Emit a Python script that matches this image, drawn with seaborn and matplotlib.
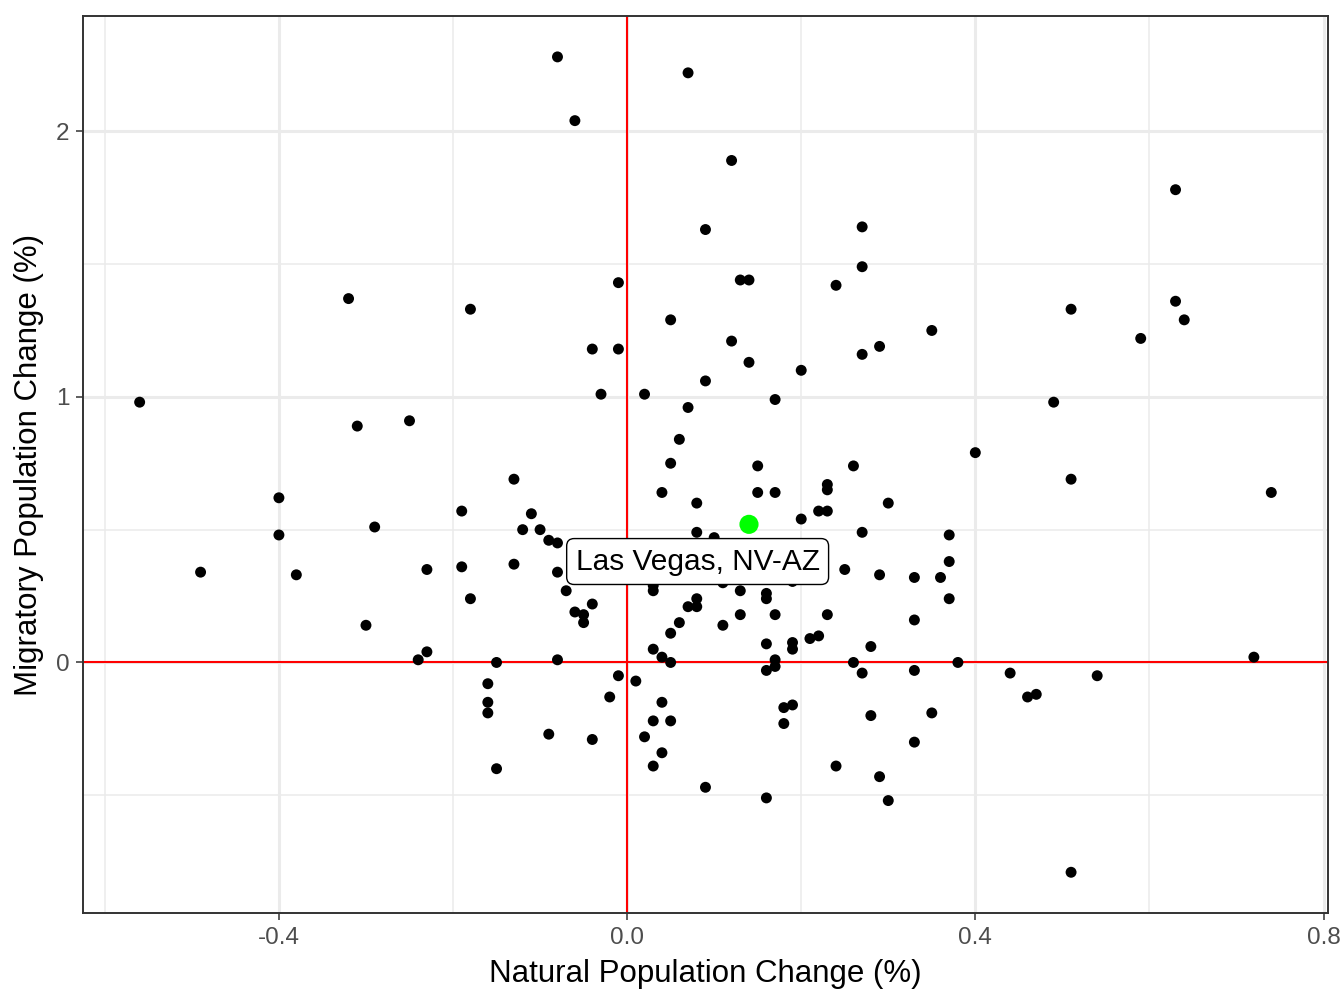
import matplotlib
matplotlib.use("Agg")
import matplotlib.pyplot as plt
import seaborn as sns
import pandas as pd
import numpy as np

# Natural population change (%) and migratory population change (%)
natural = [
    -0.08, 0.07, -0.06, 0.12, 0.63, 0.09, 0.27, 0.27, 0.13, 0.14,
    -0.01, 0.24, 0.51, 0.63, 0.64, -0.18, -0.32, 0.05, 0.35, -0.04,
    -0.01, 0.12, 0.27, 0.29, 0.14, 0.59, 0.20, 0.09, -0.56, -0.03,
    0.02, 0.17, 0.07, 0.49, -0.31, -0.25, 0.06, 0.40, 0.05, 0.15,
    0.26, -0.13, 0.51, 0.04, 0.15, 0.17, 0.23, 0.23, 0.74, -0.40,
    0.08, 0.30, -0.11, -0.19, 0.22, 0.23, 0.20, -0.29, -0.12, -0.10,
    0.08, 0.27, 0.37, -0.40, 0.10, -0.09, -0.08, -0.13, -0.19, -0.23,
    0.25, 0.37, -0.49, -0.38, -0.08, 0.29, 0.33, 0.36, 0.03, 0.03,
    0.11, 0.19, -0.07, 0.13, 0.16, 0.16, 0.08, 0.08, 0.07, -0.04,
    -0.06, -0.05, -0.05, 0.37, -0.18, 0.33, 0.13, 0.17, 0.23, 0.06,
    0.11, -0.30, 0.05, 0.28, 0.16, 0.19, 0.19, 0.21, 0.22, 0.03,
    0.04, 0.05, -0.08, 0.17, 0.17, 0.16, 0.26, 0.27, 0.33, 0.38,
    0.72, 0.44, 0.54, 0.46, 0.47, 0.35, 0.51, -0.23, -0.24, -0.15,
    -0.16, -0.16, -0.16, -0.15, -0.01, 0.01, -0.02, 0.04, 0.18, 0.19,
    0.03, 0.05, 0.18, 0.28, -0.09, -0.04, 0.02, 0.33, 0.04, 0.03,
    0.24, 0.29, 0.09, 0.16, 0.30,
]
migratory = [
    2.28, 2.22, 2.04, 1.89, 1.78, 1.63, 1.64, 1.49, 1.44, 1.44,
    1.43, 1.42, 1.33, 1.36, 1.29, 1.33, 1.37, 1.29, 1.25, 1.18,
    1.18, 1.21, 1.16, 1.19, 1.13, 1.22, 1.10, 1.06, 0.98, 1.01,
    1.01, 0.99, 0.96, 0.98, 0.89, 0.91, 0.84, 0.79, 0.75, 0.74,
    0.74, 0.69, 0.69, 0.64, 0.64, 0.64, 0.67, 0.65, 0.64, 0.62,
    0.60, 0.60, 0.56, 0.57, 0.57, 0.57, 0.54, 0.51, 0.50, 0.50,
    0.49, 0.49, 0.48, 0.48, 0.47, 0.46, 0.45, 0.37, 0.36, 0.35,
    0.35, 0.38, 0.34, 0.33, 0.34, 0.33, 0.32, 0.32, 0.29, 0.27,
    0.30, 0.305, 0.27, 0.27, 0.26, 0.24, 0.24, 0.21, 0.21, 0.22,
    0.19, 0.18, 0.15, 0.24, 0.24, 0.16, 0.18, 0.18, 0.18, 0.15,
    0.14, 0.14, 0.11, 0.06, 0.07, 0.075, 0.05, 0.09, 0.10, 0.05,
    0.02, 0.0, 0.01, 0.01, -0.015, -0.03, 0.0, -0.04, -0.03, 0.0,
    0.02, -0.04, -0.05, -0.13, -0.12, -0.19, -0.79, 0.04, 0.01, 0.0,
    -0.08, -0.15, -0.19, -0.40, -0.05, -0.07, -0.13, -0.15, -0.17, -0.16,
    -0.22, -0.22, -0.23, -0.20, -0.27, -0.29, -0.28, -0.30, -0.34, -0.39,
    -0.39, -0.43, -0.47, -0.51, -0.52,
]

highlight_name = ["Las Vegas, NV-AZ"]
highlight_natural = [0.14]
highlight_migratory = [0.52]

x_ticks = [-0.4, 0.0, 0.4, 0.8]
x_tick_labels = ["-0.4", "0.0", "0.4", "0.8"]
y_ticks = [0, 1, 2]
y_tick_labels = ["0", "1", "2"]

df = pd.DataFrame({"natural": natural, "migratory": migratory})
hl = pd.DataFrame({"natural": highlight_natural, "migratory": highlight_migratory,
                   "name": highlight_name})

sns.set_theme(style="white")
plt.rcParams["font.family"] = ["Liberation Sans", "DejaVu Sans"]

fig = plt.figure(figsize=(13.44, 10.08), dpi=100)
ax = fig.add_axes([0.0618, 0.0942, 0.988 - 0.0618, 0.984 - 0.0942])

# limits with ggplot-like 5% expansion
allx = np.array(natural + highlight_natural)
ally = np.array(migratory + highlight_migratory)
xr = allx.max() - allx.min()
yr = ally.max() - ally.min()
ax.set_xlim(allx.min() - 0.05 * xr, allx.max() + 0.05 * xr)
ax.set_ylim(ally.min() - 0.05 * yr, ally.max() + 0.05 * yr)

# grid (theme_bw)
for v in [-0.6, -0.2, 0.2, 0.6]:
    ax.axvline(v, color="#EBEBEB", lw=1.1, zorder=0)
for v in [-0.5, 0.5, 1.5]:
    ax.axhline(v, color="#EBEBEB", lw=1.1, zorder=0)
for v in x_ticks:
    ax.axvline(v, color="#EBEBEB", lw=2.2, zorder=0)
for v in y_ticks:
    ax.axhline(v, color="#EBEBEB", lw=2.2, zorder=0)

ax.axvline(0, color="red", lw=1.5, zorder=1)
ax.axhline(0, color="red", lw=1.5, zorder=1)

sns.scatterplot(data=df, x="natural", y="migratory", color="black", s=62,
                edgecolor="none", ax=ax, zorder=3)
sns.scatterplot(data=hl, x="natural", y="migratory", color="#00FF00", s=190,
                edgecolor="none", ax=ax, zorder=4)

for _, r in hl.iterrows():
    ax.text(r["natural"] - 0.059, r["migratory"] - 0.14, r["name"],
            ha="center", va="center", fontsize=21.5, color="black", zorder=5,
            bbox=dict(boxstyle="round,pad=0.3,rounding_size=0.25",
                      fc="white", ec="black", lw=1.0))

ax.set_xticks(x_ticks)
ax.set_xticklabels(x_tick_labels)
ax.set_yticks(y_ticks)
ax.set_yticklabels(y_tick_labels)
ax.tick_params(axis="both", which="major", labelsize=17.5, labelcolor="#4D4D4D",
               color="#333333", length=5, width=1.1, direction="out",
               bottom=True, left=True, pad=5)

for s in ax.spines.values():
    s.set_color("#333333")
    s.set_linewidth(1.4)
    s.set_visible(True)

ax.set_xlabel("Natural Population Change (%)", fontsize=22.5, color="black", labelpad=7)
ax.set_ylabel("Migratory Population Change (%)", fontsize=22.5, color="black", labelpad=8)

fig.savefig("out.png", dpi=100, facecolor="white")
